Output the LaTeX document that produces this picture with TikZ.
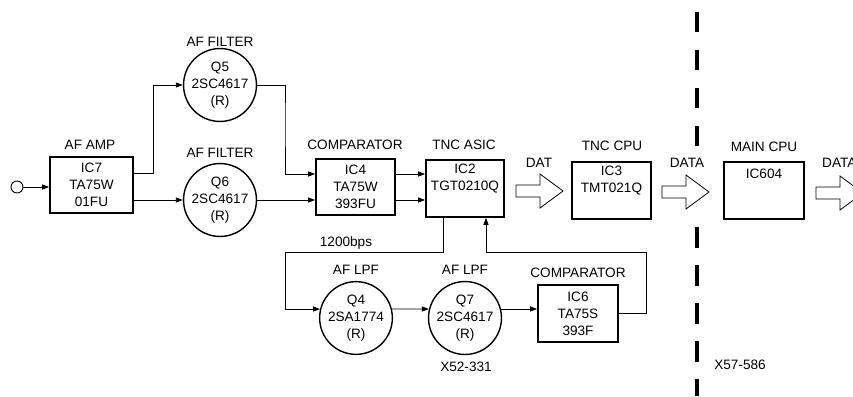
\documentclass[tikz,border=0pt]{standalone}
\usepackage{fontspec}
\setmainfont{Liberation Sans}
\usetikzlibrary{arrows.meta,calc}
\begin{document}
\begin{tikzpicture}[x=1pt,y=-1pt,
  every node/.style={font=\fontsize{13.6}{17}\selectfont, inner sep=0pt},
  box/.style={draw, line width=1.6pt, minimum width=#1, minimum height=57pt, align=center},
  box/.default=80pt,
  filt/.style={draw, line width=1.4pt, circle, minimum size=68pt, align=center},
  conn/.style={line width=0.9pt},
  arr/.style={conn, -{Triangle[length=7pt,width=5pt]}},
  ttl/.style={anchor=center},
  blockarr/.pic={\draw[line width=0.8pt] (0,-6) -- (24,-6) -- (24,-17) -- (47,0) -- (24,17) -- (24,6) -- (0,6) -- cycle;},
  sep/.style={line width=4pt}
]
\useasboundingbox (0,0) rectangle (853,396);
\clip (0,0) rectangle (853,396);

% input
\node[draw, circle, line width=0.9pt, minimum size=12pt] (in) at (17,187) {};

% blocks
\node[box=83pt, minimum height=56pt] (amp) at (91.5,185) {IC7\\TA75W\\01FU};
\node[ttl] (tamp) at (90,145) {AF AMP};

\node[filt] (q5) at (220,85) {Q5\\2SC4617\\(R)};
\node[ttl] (tq5) at (220,42) {AF FILTER};
\node[filt] (q6) at (220,200) {Q6\\2SC4617\\(R)};
\node[ttl] (tq6) at (220,153) {AF FILTER};

\node[box=79pt, minimum height=56pt] (ic4) at (355.5,187) {IC4\\TA75W\\393FU};
\node[ttl] (tic4) at (355,145) {COMPARATOR};

\node[box=78pt] (ic2) at (465,188.5) {IC2\\TGT0210Q\\\strut};
\node[ttl] (tic2) at (464,145) {TNC ASIC};

\node[box=79pt] (ic3) at (611.5,190.5) {IC3\\TMT021Q\\\strut};
\node[ttl] (tic3) at (612,146) {TNC CPU};

\node[box=80pt, label={[anchor=north,yshift=-8pt]north:IC604}] (ic604) at (764,190.5) {};
\node[ttl] (tic604) at (764,147) {MAIN CPU};

\node[filt] (q4) at (356,318) {Q4\\2SA1774\\(R)};
\node[ttl] (tq4) at (356,270) {AF LPF};
\node[filt] (q7) at (465,318) {Q7\\2SC4617\\(R)};
\node[ttl] (tq7) at (465,270) {AF LPF};

\node[box=80pt] (ic6) at (578,313.5) {IC6\\TA75S\\393F};
\node[ttl] (tic6) at (578,273) {COMPARATOR};

\node[ttl] (bps) at (346,243) {1200bps};
\node[ttl] (x52) at (466,367) {X52-331};
\node[ttl] (x57) at (740,365) {X57-586};

% connectors
\draw[arr] (in.east) -- (in.east -| amp.west);
\draw[arr] ([yshift=12pt]amp.east) -- ++(20,0) |- (q5.west);
\draw[arr] (q6.west -| amp.east) -- (q6.west);
\coordinate (a4u) at ([yshift=13pt]ic4.west);
\coordinate (a4d) at ([yshift=-13pt]ic4.west);
\draw[arr] (q5.east) -| (285,120) |- (a4u);
\draw[arr] (q6.east) -- (a4d);
\coordinate (b4u) at ([yshift=13pt]ic4.east);
\coordinate (b4d) at ([yshift=-13pt]ic4.east);
\draw[arr] (b4u) -- (b4u -| ic2.west);
\draw[arr] (b4d) -- (b4d -| ic2.west);

\coordinate (d1) at ([xshift=-22pt]ic2.south);
\coordinate (u1) at ([xshift=21pt]ic2.south);
\draw[arr] (d1) |- (285,252) |- (q4.166);
\draw[arr] (q4.14) -- (q7.166);
\draw[arr] (q7.14) -- (q7.14 -| ic6.west);
\draw[arr] (ic6.east) -| (646,252) -| (u1);

% block arrows and labels
\pic at (516,191) {blockarr};
\node[ttl] (tdat) at (539,163) {DAT};
\pic at (662,192) {blockarr};
\node[ttl] (tdata1) at (687,163) {DATA};
\pic at (816,193) {blockarr};
\node[anchor=west] (tdata2) at (822,163) {DATA};

% separator
\draw[sep, dash pattern=on 20pt off 18pt] (697,12) -- (697,147);
\draw[sep, dash pattern=on 21pt off 17pt] (697,227) -- (697,396);
\end{tikzpicture}
\end{document}
